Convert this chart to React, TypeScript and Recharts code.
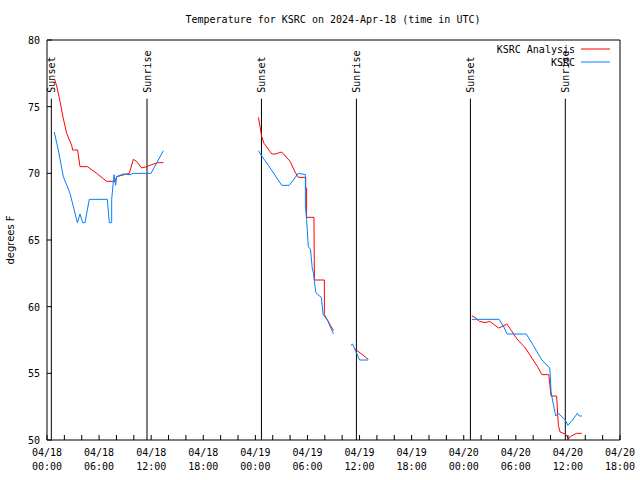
import { LineChart, Line, XAxis, YAxis, ReferenceLine } from 'recharts';

// hours since 04/18 00:00 UTC; null splits the series into separate runs
const analysisHours = [
  0.84, 1.1, 1.5, 1.88, 2.27, 2.84, 2.96, 3.53, 3.8, 4.65, 5.72, 6.87, 7.83, 8.03, 9.48, 9.94, 10.3, 10.9, 11.5, 12.25, 12.8, 13.4,
  null,
  24.35, 24.54, 24.73, 25.0, 25.9, 26.27, 27.04, 28.0, 28.57, 28.95, 29.8, 29.8, 29.9, 29.9, 30.75, 30.8, 31.95, 31.95, 33.0,
  null,
  35.4, 35.5, 36.25, 37.0,
  null,
  48.93, 49.3, 49.8, 50.46, 51.0, 51.6, 52.0, 52.4, 52.96, 53.5, 54.1, 55.1, 56.0, 56.6, 57.0, 57.8, 57.85, 58.06, 58.7, 58.9, 59.1, 59.7, 60.1, 60.25, 61.0, 61.6,
];
const analysisTemps = [
  77.1, 76.6, 75.4, 74.1, 73.0, 72.1, 71.75, 71.75, 70.5, 70.5, 70.0, 69.4, 69.4, 69.75, 70.0, 71.05, 70.9, 70.4, 70.5, 70.7, 70.8, 70.8,
  null,
  74.2, 73.5, 72.75, 72.25, 71.45, 71.45, 71.6, 70.9, 70.1, 69.7, 69.7, 68.9, 68.9, 66.7, 66.7, 62.0, 62.0, 59.4, 58.2,
  null,
  56.9, 56.8, 56.45, 56.05,
  null,
  59.3, 59.2, 58.9, 58.8, 58.9, 58.6, 58.4, 58.5, 58.7, 58.2, 57.6, 56.9, 56.0, 55.4, 54.9, 54.9, 54.55, 53.3, 53.3, 51.1, 50.6, 50.45, 50.1, 50.25, 50.5, 50.5,
];

const obsHours = [
  0.84, 1.3, 1.88, 2.65, 3.5, 3.8, 4.1, 4.38, 4.87, 6.95, 7.18, 7.45, 7.45, 7.72, 7.9, 8.03, 8.8, 9.56, 9.94, 11.98, 13.4,
  null,
  24.35, 24.73, 25.5, 27.04, 27.9, 28.95, 29.76, 29.76, 29.9, 30.1, 30.35, 30.55, 30.7, 30.95, 31.2, 31.6, 31.8, 32.3, 33.0,
  null,
  35.0, 35.2, 35.5, 36.0, 37.0,
  null,
  48.93, 52.07, 52.6, 53.0, 55.2, 56.0, 57.0, 57.9, 57.98, 58.06, 58.3, 58.6, 58.9, 59.7, 60.0, 60.4, 61.1, 61.3, 61.6,
];
const obsTemps = [
  73.1, 71.75, 69.75, 68.5, 66.3, 66.95, 66.3, 66.3, 68.05, 68.05, 66.3, 66.3, 68.05, 69.9, 69.1, 69.75, 69.95, 69.9, 70.0, 70.0, 71.7,
  null,
  71.7, 71.3, 70.6, 69.1, 69.1, 70.0, 69.9, 67.6, 66.55, 64.5, 64.3, 62.9, 62.5, 61.1, 60.9, 60.7, 59.4, 59.0, 57.95,
  null,
  57.1, 57.2, 56.75, 56.0, 56.0,
  null,
  59.05, 59.05, 58.5, 57.95, 57.95, 57.1, 56.0, 55.4, 54.75, 53.6, 52.75, 51.8, 52.0, 51.5, 51.1, 51.4, 52.0, 51.8, 51.8,
];

const sunEvents = [
  { t: 0.5, label: 'Sunset' },
  { t: 11.52, label: 'Sunrise' },
  { t: 24.7, label: 'Sunset' },
  { t: 35.64, label: 'Sunrise' },
  { t: 48.77, label: 'Sunset' },
  { t: 59.7, label: 'Sunrise' },
];

const xTicks = Array.from({ length: 34 }, (_, i) => i * 2);
const yTicks = [50, 55, 60, 65, 70, 75, 80];
const dayLabels = ['04/18', '04/19', '04/20'];

const toRows = (hours: (number | null)[], temps: (number | null)[]) =>
  hours.map((h, i) => ({ t: h, v: temps[i] }));

const analysisData = toRows(analysisHours, analysisTemps);
const obsData = toRows(obsHours, obsTemps);

const FONT = '"DejaVu Sans Mono", "Liberation Mono", monospace';
const RED = '#ff0000';
const BLUE = '#0080ff';

const BottomTick = ({ x, y, payload }: any) => {
  const h = payload.value as number;
  const show = h % 6 === 0;
  const day = dayLabels[Math.floor(h / 24)];
  const hh = String(h % 24).padStart(2, '0') + ':00';
  return (
    <g>
      <line x1={x} y1={y} x2={x} y2={y - 5} stroke="#000" />
      {show && (
        <text x={x} y={y + 16} textAnchor="middle" fontFamily={FONT} fontSize={10} fill="#000">
          <tspan x={x}>{day}</tspan>
          <tspan x={x} dy={14}>{hh}</tspan>
        </text>
      )}
    </g>
  );
};

const TopTick = ({ x, y }: any) => <line x1={x} y1={y} x2={x} y2={y + 5} stroke="#000" />;

const LeftTick = ({ x, y, payload }: any) => (
  <g>
    <line x1={x} y1={y} x2={x + 5} y2={y} stroke="#000" />
    <text x={x - 7} y={y + 4} textAnchor="end" fontFamily={FONT} fontSize={10} fill="#000">
      {payload.value}
    </text>
  </g>
);

const RightTick = ({ x, y }: any) => <line x1={x} y1={y} x2={x - 5} y2={y} stroke="#000" />;

const SunLabel = (text: string) => (props: any) => {
  const vb = props.viewBox || {};
  const x = vb.x + 4;
  const y = vb.y - 6;
  return (
    <text x={x} y={y} transform={`rotate(-90 ${x} ${y})`} fontFamily={FONT} fontSize={10} fill="#000">
      {text}
    </text>
  );
};

const legendItems = [
  { name: 'KSRC Analysis', color: RED, y: 49 },
  { name: 'KSRC', color: BLUE, y: 62 },
];

export default function App() {
  return (
    <div style={{ position: 'absolute', left: 0, top: 0, width: 640, height: 480, background: '#fff' }}>
      <LineChart
        width={640}
        height={480}
        margin={{ top: 0, right: 0, bottom: 0, left: 0 }}
      >
        <XAxis
          dataKey="t"
          type="number"
          domain={[0, 66]}
          ticks={xTicks}
          interval={0}
          allowDataOverflow
          height={40}
          tickSize={0}
          tickMargin={0}
          tickLine={false}
          axisLine={{ stroke: '#000' }}
          tick={<BottomTick />}
        />
        <XAxis
          xAxisId="top"
          orientation="top"
          dataKey="t"
          type="number"
          domain={[0, 66]}
          ticks={xTicks}
          interval={0}
          height={40}
          tickSize={0}
          tickMargin={0}
          tickLine={false}
          axisLine={{ stroke: '#000' }}
          tick={<TopTick />}
        />
        <YAxis
          type="number"
          domain={[50, 80]}
          ticks={yTicks}
          interval={0}
          width={47}
          tickSize={0}
          tickMargin={0}
          tickLine={false}
          axisLine={{ stroke: '#000' }}
          tick={<LeftTick />}
        />
        <YAxis
          yAxisId="right"
          orientation="right"
          type="number"
          domain={[50, 80]}
          ticks={yTicks}
          interval={0}
          width={20}
          tickSize={0}
          tickMargin={0}
          tickLine={false}
          axisLine={{ stroke: '#000' }}
          tick={<RightTick />}
        />
        {sunEvents.map((e, i) => (
          <ReferenceLine
            key={i}
            segment={[{ x: e.t, y: 75.6 }, { x: e.t, y: 50 }]}
            stroke="#000"
            strokeWidth={1}
            label={SunLabel(e.label)}
          />
        ))}
        <Line
          data={analysisData}
          dataKey="v"
          type="linear"
          stroke={RED}
          strokeWidth={1}
          dot={false}
          activeDot={false}
          connectNulls={false}
          isAnimationActive={false}
        />
        <Line
          data={obsData}
          dataKey="v"
          type="linear"
          stroke={BLUE}
          strokeWidth={1}
          dot={false}
          activeDot={false}
          connectNulls={false}
          isAnimationActive={false}
        />
      </LineChart>
      <svg
        width={640}
        height={480}
        style={{ position: 'absolute', left: 0, top: 0, pointerEvents: 'none' }}
      >
        <text x={333} y={23} textAnchor="middle" fontFamily={FONT} fontSize={10} fill="#000">
          Temperature for KSRC on 2024-Apr-18 (time in UTC)
        </text>
        <text
          x={14}
          y={240}
          transform="rotate(-90 14 240)"
          textAnchor="middle"
          fontFamily='"DejaVu Sans", sans-serif'
          fontSize={10}
          fill="#000"
        >
          degrees F
        </text>
        {legendItems.map((it) => (
          <g key={it.name}>
            <text x={575} y={it.y + 4} textAnchor="end" fontFamily={FONT} fontSize={10} fill="#000">
              {it.name}
            </text>
            <line x1={581} x2={610} y1={it.y} y2={it.y} stroke={it.color} />
          </g>
        ))}
      </svg>
    </div>
  );
}
